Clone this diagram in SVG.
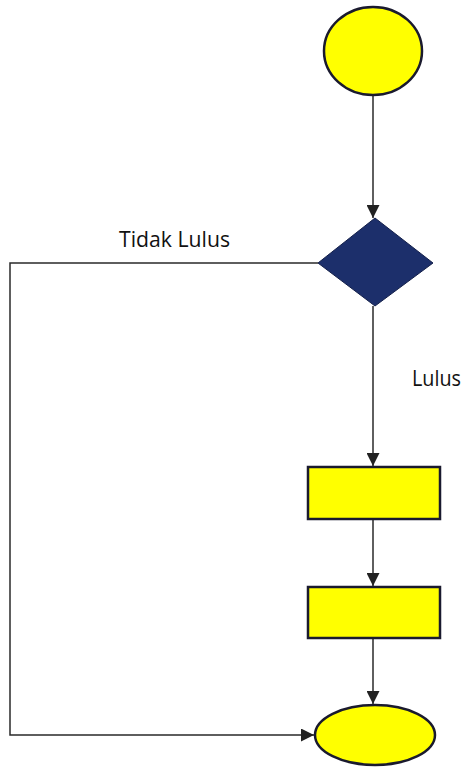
<svg xmlns="http://www.w3.org/2000/svg" width="467" height="767" viewBox="0 0 467 767">
<style>
.yel{fill:#ffff00;stroke:#1a1a2e;stroke-width:2.5}
.dia{fill:#1c2f6b;stroke:#14204a;stroke-width:1}
.con{fill:none;stroke:#2a2a2a;stroke-width:1.5}
.lbl{font-family:"Open Sans","Liberation Sans",sans-serif;font-size:21px;fill:#111}
</style>
<defs>
<marker id="arr" viewBox="0 0 10 10" refX="10" refY="5" markerWidth="13" markerHeight="13" markerUnits="userSpaceOnUse" orient="auto">
<path d="M0,0 L10,5 L0,10 z" fill="#222"/>
</marker>
</defs>
<g id="connectors">
<line class="con" x1="373" y1="95" x2="373" y2="218" marker-end="url(#arr)"/>
<line class="con" x1="373" y1="306" x2="373" y2="466" marker-end="url(#arr)"/>
<line class="con" x1="373" y1="520" x2="373" y2="586" marker-end="url(#arr)"/>
<line class="con" x1="373" y1="639" x2="373" y2="704" marker-end="url(#arr)"/>
<polyline class="con" points="318,263 10,263 10,735 314,735" marker-end="url(#arr)"/>
</g>
<g id="start"><ellipse class="yel" cx="373" cy="51" rx="49" ry="44"/></g>
<g id="decision"><polygon class="dia" points="375,218 433,263 375,306 318,263"/></g>
<g id="process1"><rect class="yel" x="308" y="467" width="132" height="52"/></g>
<g id="process2"><rect class="yel" x="308" y="587" width="132" height="51"/></g>
<g id="end"><ellipse class="yel" cx="375" cy="735" rx="60" ry="30"/></g>
<g id="labels">
<text class="lbl" x="119" y="247" textLength="111" lengthAdjust="spacingAndGlyphs">Tidak Lulus</text>
<text class="lbl" x="412" y="386" textLength="49" lengthAdjust="spacingAndGlyphs">Lulus</text>
</g>
</svg>
